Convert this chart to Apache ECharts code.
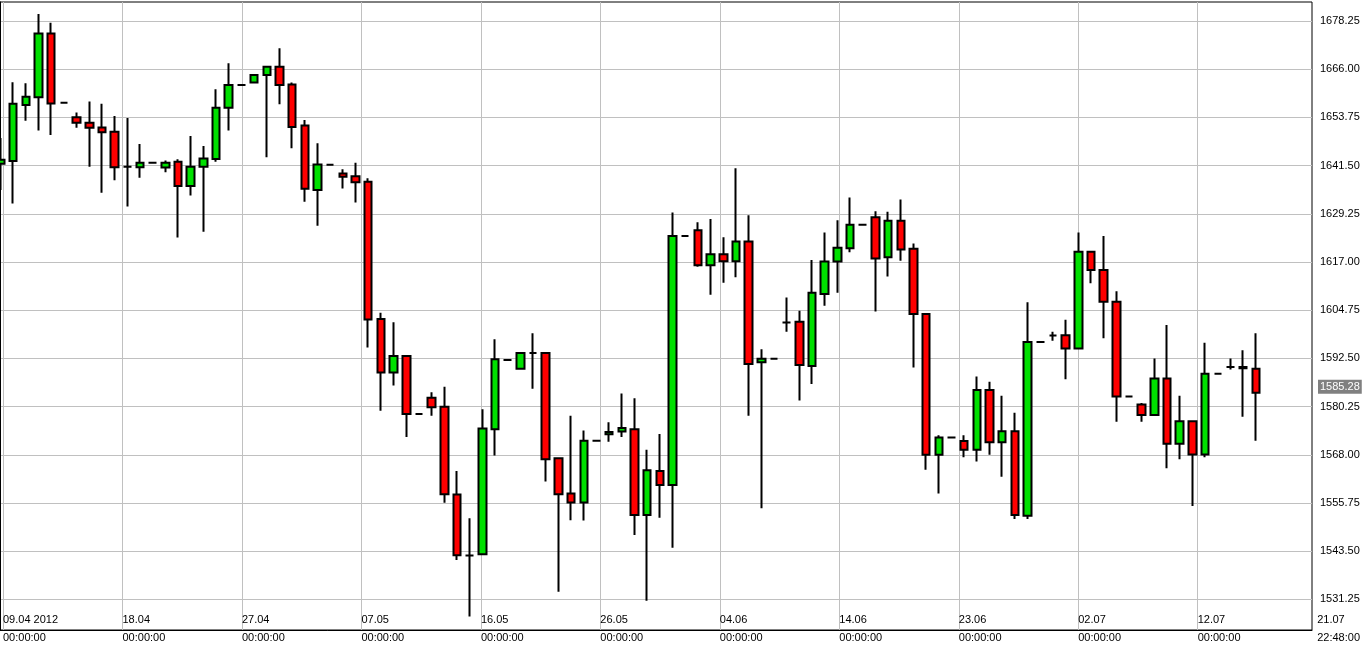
<!DOCTYPE html>
<html><head><meta charset="utf-8">
<script src="https://cdn.jsdelivr.net/npm/echarts@6/dist/echarts.min.js"></script>
<style>html,body{margin:0;padding:0;background:#fff}#c{width:1363px;height:651px}</style>
</head><body><div id="c"></div>
<script>
// candle index -> [open, close, low, high]
const opens  = [1642,1642.7,1656.9,1658.9,1675.1,1657.5,1653.8,1652.4,1651.2,1650.1,1641.2,1641.1,1642.2,1641.0,1642.5,1636.3,1641.2,1643.2,1656.2,1662.0,1662.6,1664.5,1666.6,1662.1,1651.7,1635.3,1641.7,1639.5,1638.8,1637.4,1602.5,1588.9,1593.1,1578.4,1582.5,1580.2,1557.9,1542.4,1542.7,1574.5,1592.1,1589.9,1593.9,1593.9,1567.1,1558.2,1555.9,1571.6,1573.2,1573.9,1574.5,1552.7,1563.9,1560.3,1623.6,1625.1,1616.2,1619.0,1617.2,1622.2,1591.5,1592.4,1601.6,1601.8,1590.6,1608.9,1617.1,1620.5,1626.5,1628.4,1618.2,1627.5,1620.4,1603.8,1568.0,1572.4,1571.5,1569.3,1584.5,1571.2,1574.0,1552.5,1596.7,1598.3,1598.4,1595.0,1619.6,1615.0,1606.9,1582.8,1580.8,1578.1,1587.4,1570.8,1576.5,1568.1,1588.6,1590.3,1590.3,1589.9];
const closes = [1643,1657.2,1659.0,1675.1,1657.3,1657.5,1652.4,1651.1,1650.0,1641.1,1641.2,1642.2,1642.2,1642.2,1636.3,1641.2,1643.3,1656.2,1662.0,1662.0,1664.5,1666.6,1662.0,1651.3,1635.6,1641.8,1641.7,1638.7,1637.3,1602.4,1588.9,1593.1,1578.4,1578.4,1580.1,1558.0,1542.5,1542.4,1574.7,1592.3,1592.1,1593.9,1593.9,1566.9,1558.0,1555.9,1571.6,1571.6,1573.8,1574.8,1552.7,1564.1,1560.3,1623.6,1623.6,1616.2,1619.0,1617.2,1622.2,1591.1,1592.4,1592.4,1601.6,1590.8,1609.2,1617.1,1620.6,1626.5,1626.5,1617.9,1627.5,1620.2,1603.8,1568.0,1572.4,1572.4,1569.3,1584.5,1571.2,1574.0,1552.7,1596.7,1596.7,1598.3,1595.0,1619.6,1615.0,1606.9,1582.8,1582.8,1578.1,1587.4,1570.8,1576.5,1568.1,1588.6,1588.6,1590.3,1590.0,1583.8];
const lows   = [1635.3,1631.9,1652.9,1650.4,1649.3,1657.5,1651.1,1641.2,1634.6,1637.8,1631.1,1638.4,1642.2,1639.8,1623.2,1633.9,1624.7,1642.5,1650.4,1662.0,1662.6,1643.6,1657.1,1645.9,1632.3,1626.2,1641.7,1635.7,1632.1,1595.3,1579.2,1585.6,1572.5,1578.4,1577.9,1555.8,1541.3,1526.9,1542.7,1567.8,1592.1,1589.9,1584.8,1561.2,1533.2,1551.4,1551.3,1571.6,1571.3,1572.5,1547.6,1530.9,1552.0,1544.4,1623.6,1615.8,1608.7,1611.7,1613.1,1577.9,1554.4,1592.4,1599.3,1581.8,1586.0,1605.9,1609.2,1619.5,1626.5,1604.4,1613.3,1617.3,1590.2,1564.2,1558.2,1572.4,1567.4,1566.3,1568.0,1562.4,1551.7,1551.7,1596.7,1597.0,1587.2,1595.0,1611.6,1597.6,1576.4,1582.8,1576.4,1578.1,1564.6,1566.9,1555.0,1567.4,1588.6,1589.7,1577.7,1571.6];
const highs  = [1648.5,1662.7,1662.4,1680.0,1677.8,1657.5,1655.0,1657.8,1657.2,1654.1,1653.6,1647.0,1642.2,1642.8,1643.1,1649.0,1646.5,1660.9,1667.5,1662.0,1664.5,1666.6,1671.3,1662.6,1653.1,1647.2,1641.7,1640.6,1642.2,1638.3,1604.1,1601.7,1593.1,1578.4,1583.9,1585.3,1563.9,1551.9,1579.6,1597.4,1592.1,1593.9,1598.9,1593.9,1567.1,1577.9,1574.2,1571.6,1576.3,1583.6,1582.4,1569.3,1573.3,1629.6,1623.6,1627.1,1627.9,1623.3,1640.8,1628.9,1594.8,1592.4,1608.0,1604.6,1617.5,1624.5,1627.6,1633.4,1626.5,1629.9,1629.8,1632.9,1621.7,1603.8,1573.0,1572.4,1573.0,1587.9,1586.6,1583.0,1578.7,1606.8,1596.7,1599.3,1602.3,1624.5,1619.6,1623.6,1609.6,1582.8,1581.2,1592.5,1601.0,1583.0,1576.5,1596.5,1588.6,1592.5,1594.6,1598.9];
const dateLabels = ['09.04 2012','18.04','27.04','07.05','16.05','26.05','04.06','14.06','23.06','02.07','12.07','21.07'];
const timeLabels = ['00:00:00','00:00:00','00:00:00','00:00:00','00:00:00','00:00:00','00:00:00','00:00:00','00:00:00','00:00:00','00:00:00','22:48:00'];
const lastPrice = 1585.28;

const candles = opens.map((o,i)=>[i,o,closes[i],lows[i],highs[i]]);
const FONT = 'Liberation Sans';
const chart = echarts.init(document.getElementById('c'));
chart.setOption({
  animation:false,
  grid:[
    {left:0,top:2,width:1312,height:628,show:true,borderColor:'#000',borderWidth:1,backgroundColor:'transparent'},
    {left:0,top:21,width:1312,bottom:3.4},
    {left:0,top:2,width:1320,height:628}
  ],
  xAxis:[
    {gridIndex:0,type:'value',min:-0.5/12.68,max:(1312-0.5)/12.68,axisLine:{show:true,lineStyle:{color:'#000'}},axisTick:{show:false},axisLabel:{show:false},splitLine:{show:false}},
    {gridIndex:1,type:'value',show:false},
    {gridIndex:2,type:'value',min:0,max:1320,interval:120,axisLine:{show:false},axisTick:{show:false},
     splitLine:{show:true,showMinLine:true,showMaxLine:false,lineStyle:{color:'#c0c0c0',width:1}},
     axisLabel:{show:true,showMinLabel:true,showMaxLabel:true,alignMinLabel:'left',alignMaxLabel:'left',margin:-19,align:'left',lineHeight:18,fontFamily:FONT,fontSize:11,color:'#000',
       formatter:v=>{const k=Math.round(v/120);return dateLabels[k]+'\n'+timeLabels[k];}}}
  ],
  yAxis:[
    {gridIndex:0,type:'value',position:'right',min:1523.48,max:1683.08,axisLine:{show:true,lineStyle:{color:'#000'}},axisTick:{show:false},axisLabel:{show:false},splitLine:{show:false}},
    {gridIndex:1,type:'value',position:'right',min:1519,max:1678.25,interval:12.25,axisLine:{show:false},axisTick:{show:false},
     splitLine:{show:true,showMinLine:false,showMaxLine:true,lineStyle:{color:'#c0c0c0',width:1}},
     axisLabel:{showMinLabel:false,showMaxLabel:true,margin:8,fontFamily:FONT,fontSize:11,color:'#000',padding:[0,0,8,0],formatter:v=>v.toFixed(2)}},
    {gridIndex:2,type:'value',show:false}
  ],
  series:[{
    type:'candlestick',xAxisIndex:0,yAxisIndex:0,data:candles,encode:{x:0,y:[1,2,3,4]},
    barWidth:8,z:5,
    itemStyle:{color:'#00e000',color0:'#ff0000',borderColor:'#000',borderColor0:'#000',borderColorDoji:'#000',borderWidth:2},
    markLine:{silent:true,symbol:'none',lineStyle:{color:'rgba(0,0,0,0)',width:1,type:'solid'},
      label:{show:true,position:'end',distance:6,formatter:'1585.28',backgroundColor:'#808080',color:'#fff',padding:[2,2,1,2],fontFamily:FONT,fontSize:11},
      data:[{yAxis:lastPrice}]}
  }]
});
</script></body></html>
